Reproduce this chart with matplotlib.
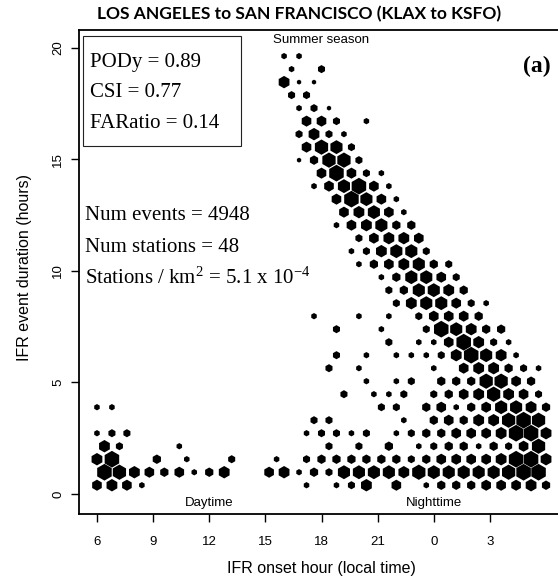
import matplotlib
matplotlib.use('Agg')
import matplotlib.pyplot as plt
from matplotlib.patches import Rectangle
import numpy as np

plt.rcParams['mathtext.fontset'] = 'custom'
plt.rcParams['mathtext.rm'] = 'Liberation Serif'
plt.rcParams['mathtext.it'] = 'Liberation Serif:italic'

# hexbin grid of the source figure (bin centres, hours)
X_START = 6.0
X_STEP = 0.8
Y_START = 0.39
Y_STEP = 0.583

# event counts per hexagon, one dict per grid row (bottom row first): {column: count}
# odd rows are shifted half a bin to the right
hex_rows = [
    {0: 24, 1: 31, 2: 24, 3: 7, 14: 7, 16: 7, 17: 12, 18: 31, 20: 24, 22: 7, 23: 17, 24: 17,
     25: 17, 26: 24, 27: 24, 28: 24, 29: 31, 30: 17},
    {0: 60, 1: 49, 2: 31, 3: 24, 4: 17, 5: 24, 6: 7, 7: 17, 8: 31, 11: 24, 12: 31, 13: 7,
     14: 17, 15: 12, 16: 40, 17: 40, 18: 40, 19: 40, 20: 31, 21: 49, 22: 40, 23: 40, 24: 40,
     25: 40, 26: 40, 27: 49, 28: 60, 29: 60},
    {0: 31, 1: 60, 4: 17, 6: 7, 9: 12, 12: 7, 14: 12, 15: 17, 16: 17, 17: 17, 18: 17, 19: 17,
     20: 17, 21: 12, 22: 17, 23: 24, 24: 24, 25: 24, 26: 24, 27: 31, 28: 60, 29: 60, 30: 31},
    {0: 31, 1: 12, 5: 7, 15: 12, 17: 12, 19: 17, 21: 7, 22: 12, 23: 17, 24: 17, 25: 7, 26: 17,
     27: 12, 28: 24, 29: 49},
    {0: 7, 1: 12, 2: 12, 14: 7, 15: 12, 16: 12, 17: 7, 18: 12, 20: 7, 21: 12, 22: 17, 23: 17,
     24: 24, 25: 24, 26: 24, 27: 31, 28: 60, 29: 60, 30: 31},
    {14: 12, 15: 12, 20: 7, 22: 17, 23: 24, 24: 17, 25: 31, 26: 31, 27: 49, 28: 60, 29: 49},
    {0: 7, 1: 7, 19: 12, 20: 12, 22: 17, 23: 24, 24: 7, 25: 17, 26: 24, 27: 40, 28: 40, 29: 31,
     30: 17},
    {16: 12, 18: 7, 19: 7, 20: 12, 22: 12, 23: 17, 24: 24, 25: 31, 26: 49, 27: 31, 28: 24, 29: 12},
    {18: 7, 20: 7, 21: 12, 23: 17, 24: 17, 25: 17, 26: 49, 27: 49, 28: 24, 29: 17},
    {15: 12, 17: 7, 22: 7, 24: 24, 25: 31, 26: 31, 27: 17, 28: 12, 29: 7},
    {16: 12, 18: 7, 20: 7, 21: 7, 22: 7, 23: 12, 24: 31, 25: 60, 26: 40, 27: 31, 28: 7},
    {19: 12, 21: 7, 22: 7, 23: 24, 24: 60, 25: 31, 26: 12, 27: 7},
    {16: 12, 19: 7, 22: 12, 23: 60, 24: 40, 25: 31, 26: 17, 27: 17},
    {14: 7, 17: 7, 19: 7, 21: 12, 22: 24, 23: 24, 24: 24, 25: 17},
    {20: 12, 21: 31, 22: 40, 23: 40, 24: 24, 25: 12, 26: 7},
    {19: 12, 20: 17, 21: 40, 22: 40, 23: 31, 24: 17},
    {19: 7, 20: 17, 21: 40, 22: 40, 23: 24, 24: 12},
    {17: 7, 18: 17, 19: 24, 20: 31, 21: 40, 22: 17, 23: 12},
    {17: 7, 18: 12, 19: 31, 20: 40, 21: 40, 22: 12},
    {17: 12, 18: 24, 19: 31, 20: 31, 21: 24},
    {16: 7, 17: 24, 18: 31, 19: 40, 20: 17, 21: 17},
    {16: 24, 17: 31, 18: 40, 19: 24, 20: 7},
    {16: 24, 17: 60, 18: 40, 19: 24, 20: 7},
    {14: 7, 15: 24, 16: 40, 17: 60, 18: 24, 19: 7},
    {15: 24, 16: 60, 17: 24, 18: 12, 19: 7},
    {13: 4, 14: 17, 15: 49, 16: 49, 17: 12},
    {14: 24, 15: 49, 16: 40, 17: 12},
    {13: 12, 14: 31, 15: 12, 16: 7},
    {14: 24, 15: 24, 16: 12, 18: 7},
    {13: 7, 14: 12, 15: 4},
    {13: 12, 14: 12},
    {12: 31, 13: 4, 14: 4},
    {13: 7, 15: 12},
    {12: 7, 13: 7},
]

x_ticks = [6, 9, 12, 15, 18, 21, 24, 27]
x_tick_labels = ['6', '9', '12', '15', '18', '21', '0', '3']
y_ticks = [0, 5, 10, 15, 20]
skill_lines = ['PODy = 0.89', 'CSI = 0.77', 'FARatio = 0.14']
info_lines = ['Num events = 4948', 'Num stations = 48',
              r'Stations / km$^2$ = 5.1 x 10$^{-4}$']

W, H = 558, 584
fig = plt.figure(figsize=(W / 100, H / 100), dpi=100)
ax = fig.add_axes([79 / W, 1 - 514 / H, (564 - 79) / W, (514 - 30) / H])
ax.set_xlim(5.04, 30.96)
ax.set_ylim(-0.9, 20.8)

xs, ys, cs = [], [], []
for r, row in enumerate(hex_rows):
    shift = 0.5 if r % 2 else 0.0
    for col, cnt in row.items():
        xs.append(X_START + X_STEP * (col + shift))
        ys.append(Y_START + Y_STEP * r)
        cs.append(cnt)
xs, ys, cs = np.array(xs), np.array(ys), np.array(cs, dtype=float)

# hexagon size grows with count, largest one fills its cell
full_w = ax.transData.transform((X_STEP, 0))[0] - ax.transData.transform((0, 0))[0]
w_px = 0.97 * full_w * (cs / cs.max()) ** 0.45
ms_pt = 2 * w_px / np.sqrt(3) * 72 / fig.dpi
ax.scatter(xs, ys, s=ms_pt ** 2, marker='h', c='black', linewidths=0, zorder=3)

for sp in ax.spines.values():
    sp.set_linewidth(1.3)
ax.set_xticks(x_ticks, x_tick_labels)
ax.set_yticks(y_ticks)
ax.tick_params(direction='out', length=5.5, width=1.0, labelsize=9.5)
ax.tick_params(axis='x', pad=10)
ax.tick_params(axis='y', labelrotation=90, pad=5)
for lbl in ax.get_yticklabels():
    lbl.set_va('center')
for lbl in ax.get_xticklabels() + ax.get_yticklabels():
    lbl.set_family('Liberation Sans')

sans = dict(family='Liberation Sans', fontsize=9.5)
ax.text(12, -0.42, 'Daytime', ha='center', va='center', **sans)
ax.text(24, -0.42, 'Nighttime', ha='center', va='center', **sans)
ax.text(18, 20.33, 'Summer season', ha='center', va='center', **sans)

fig.text(299 / W, 1 - 14.5 / H, 'LOS ANGELES to SAN FRANCISCO (KLAX to KSFO)',
         ha='center', va='center', family='Lato', fontweight='bold', fontsize=12.5)
fig.text(321.7 / W, 1 - 568 / H, 'IFR onset hour (local time)', ha='center', va='center',
         family='Liberation Sans', fontsize=11.5)
fig.text(25 / W, 1 - 267.5 / H, 'IFR event duration (hours)', ha='center', va='center',
         rotation=90, family='Liberation Sans', fontsize=11.5)
fig.text(536.7 / W, 1 - 66 / H, '(a)', ha='center', va='center', family='Liberation Serif',
         fontweight='bold', fontsize=17)

fig.add_artist(Rectangle((83 / W, 1 - 146 / H), (241 - 83) / W, (146 - 36) / H,
                         transform=fig.transFigure, fill=False, lw=0.8, edgecolor='#222222'))
for i, line in enumerate(skill_lines):
    fig.text(90 / W, 1 - (67 + 30.3 * i) / H, line, va='baseline',
             family='Liberation Serif', fontsize=15)
for i, line in enumerate(info_lines):
    fig.text(85 / W, 1 - (220 + 31.7 * i) / H, line, va='baseline',
             family='Liberation Serif', fontsize=15)

fig.savefig('out.png', dpi=100)
